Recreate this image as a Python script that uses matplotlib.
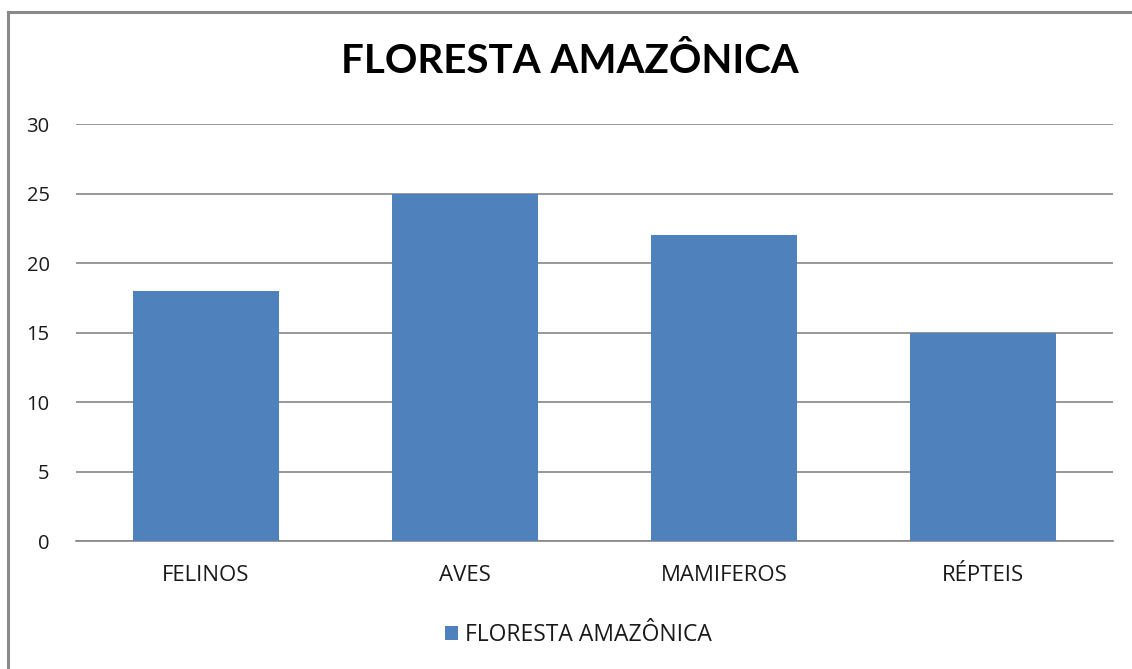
import matplotlib
matplotlib.use("Agg")
import matplotlib.pyplot as plt
from matplotlib.lines import Line2D

# data
categories = ["FELINOS", "AVES", "MAMIFEROS", "RÉPTEIS"]
values = [18, 25, 22, 15]
series_name = "FLORESTA AMAZÔNICA"
yticks = [0, 5, 10, 15, 20, 25, 30]

bar_color = "#4F81BD"
grid_color = "#868686"

plt.rcParams["font.family"] = ["Open Sans", "DejaVu Sans"]

fig = plt.figure(figsize=(11.32, 6.69), dpi=100)
ax = fig.add_axes([0.0671, 0.1913, 0.9159, 0.6233])

x = range(len(categories))
ax.bar(x, values, width=0.563, color=bar_color, zorder=3, label=series_name)

ax.set_xlim(-0.5, len(categories) - 0.5)
ax.set_ylim(0, 30)
ax.set_yticks(yticks)
ax.set_xticks(list(x))
ax.set_xticklabels(categories)
ax.yaxis.grid(True, color=grid_color, linewidth=1.2, zorder=0)
for s in ["top", "right", "left"]:
    ax.spines[s].set_visible(False)
ax.spines["bottom"].set_color(grid_color)
ax.spines["bottom"].set_linewidth(1.2)
ax.tick_params(axis="y", length=0, labelsize=14.5, colors="#1a1a1a", pad=19)
ax.tick_params(axis="x", length=0, labelsize=16, colors="#1a1a1a", pad=17)

fig.text(0.503, 0.908, series_name, ha="center", va="center",
         fontsize=29, fontweight="bold", color="black", family="Lato")

fig.legend(loc="center", bbox_to_anchor=(0.511, 0.051), frameon=False,
           fontsize=16.5, handlelength=0.6, handleheight=0.6, handletextpad=0.3,
           labelcolor="#1a1a1a")

# outer chart border (left and top visible)
fig.add_artist(Line2D([0.0075, 0.0075], [0, 0.982], transform=fig.transFigure,
                      color="#8a8a8a", linewidth=2.2))
fig.add_artist(Line2D([0.0075, 1.0], [0.982, 0.982], transform=fig.transFigure,
                      color="#8a8a8a", linewidth=2.2))

fig.savefig("out.png", dpi=100)
